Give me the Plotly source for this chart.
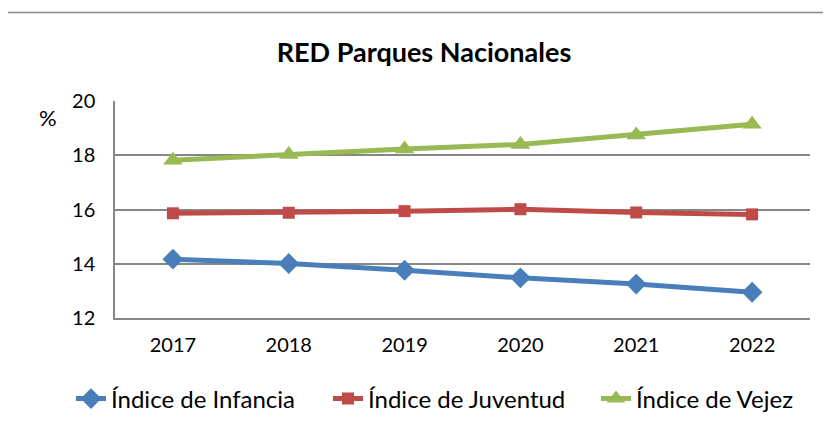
import plotly.graph_objects as go

years = ["2017", "2018", "2019", "2020", "2021", "2022"]
infancia = [14.17, 14.01, 13.76, 13.48, 13.25, 12.95]
juventud = [15.86, 15.88, 15.94, 16.01, 15.89, 15.82]
vejez = [17.82, 18.03, 18.23, 18.40, 18.75, 19.14]

OFF = 8  # page body margin
W, H = 831 - OFF, 437 - OFF
L, R, T, B = 115 - OFF, 810 - OFF, 101 - OFF, 318 - OFF

fig = go.Figure()
fig.add_trace(go.Scatter(x=years, y=infancia, name="Índice de Infancia", mode="lines+markers",
                         line=dict(color="#4A7EBB", width=5), legend="legend",
                         marker=dict(symbol="diamond", size=16, color="#4A7EBB")))
fig.add_trace(go.Scatter(x=years, y=juventud, name="Índice de Juventud", mode="lines+markers",
                         line=dict(color="#BE4B48", width=5), legend="legend2",
                         marker=dict(symbol="square", size=12, color="#BE4B48")))
fig.add_trace(go.Scatter(x=years, y=vejez, name="Índice de Vejez", mode="lines+markers",
                         line=dict(color="#98B954", width=5), legend="legend3",
                         marker=dict(symbol="triangle-up", size=17, color="#98B954")))

def px_x(p):
    return (p - OFF - L) / (R - L)

def px_y(p):
    return (B - (p - OFF)) / (B - T)

def leg(text_start):
    return dict(orientation="h", x=px_x(text_start - 42), xanchor="left", y=px_y(399),
                yref="paper", yanchor="middle", font=dict(size=24), itemwidth=30,
                bgcolor="rgba(0,0,0,0)")

fig.update_layout(
    width=W, height=H,
    margin=dict(l=L, r=W - R, t=T, b=H - B),
    paper_bgcolor="white", plot_bgcolor="white",
    font=dict(family="Lato, Carlito, Calibri, sans-serif", color="black"),
    title=dict(text="<b>RED Parques Nacionales</b>", x=(424 - OFF) / W, xanchor="center",
               y=1 - (53 - OFF) / H, yanchor="middle", font=dict(size=27, color="black")),
    showlegend=True,
    legend=leg(113), legend2=leg(370), legend3=leg(638),
    xaxis=dict(type="category", range=[-0.5, 5.5], showgrid=False, showline=True,
               linecolor="#868686", linewidth=1.5,
               ticks="", tickfont=dict(size=20), ticklabelstandoff=8, fixedrange=True),
    yaxis=dict(range=[12, 20], dtick=2, showgrid=True, gridcolor="#868686", gridwidth=1.5,
               showline=True, linecolor="#868686", linewidth=1.5, zeroline=False,
               ticks="", tickfont=dict(size=20), ticklabelstandoff=14, fixedrange=True),
    annotations=[dict(text="%", x=px_x(48), y=px_y(117), xref="paper", yref="paper",
                      showarrow=False, font=dict(size=22), xanchor="center", yanchor="middle")],
    shapes=[dict(type="rect", xref="paper", yref="paper", x0=px_x(5), y0=-3, x1=3, y1=px_y(12.5),
                 line=dict(color="#868686", width=1.5), layer="below")],
)

fig.write_html("out.html")
